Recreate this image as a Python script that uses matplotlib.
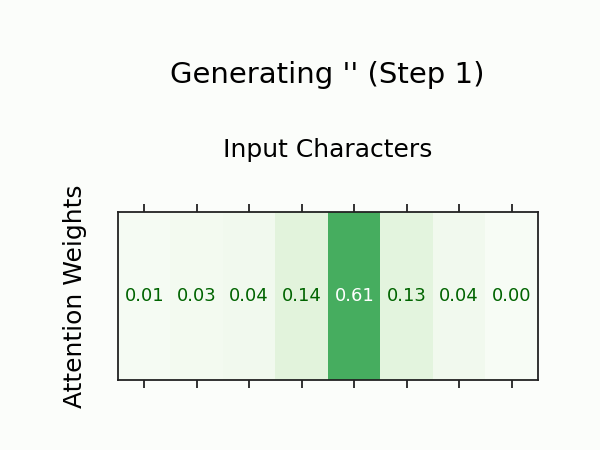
import matplotlib
matplotlib.use("Agg")
import matplotlib.pyplot as plt
import numpy as np

weights = [0.01, 0.03, 0.04, 0.14, 0.61, 0.13, 0.04, 0.00]
char_labels = [""] * 8
title = "Generating '' (Step 1)"

fig = plt.figure(figsize=(6, 4.5), dpi=100, facecolor="#fbfdfa")
ax = fig.add_axes([118/600, 1-380/450, 420/600, 168/450])
ax.imshow(np.array([weights]), cmap="Greens", vmin=0, vmax=1, aspect="auto")

for i, w in enumerate(weights):
    ax.text(i, 0, f"{w:.2f}", ha="center", va="center", fontsize=13,
            color="white" if w > 0.5 else "darkgreen")

ax.set_xticks(range(len(weights)))
ax.set_xticklabels(char_labels)
ax.set_yticks([])
ax.tick_params(axis="x", top=True, bottom=True, labeltop=True, labelbottom=False,
               length=6, width=1.3, color="#222222")
ax.xaxis.set_label_position("top")
ax.set_xlabel("Input Characters", fontsize=18, labelpad=30)
ax.set_ylabel("Attention Weights", fontsize=18, labelpad=22)
for s in ax.spines.values():
    s.set_linewidth(1.3)
    s.set_color("#222222")
fig.text(327/600, 1-75/450, title, ha="center", va="center", fontsize=21)

fig.savefig("out.png", dpi=100, facecolor=fig.get_facecolor())
